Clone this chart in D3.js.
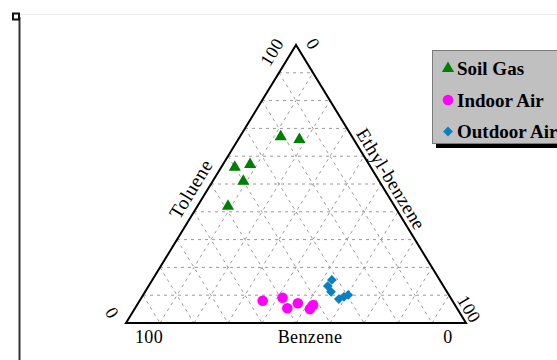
<!DOCTYPE html>
<html><head><meta charset="utf-8">
<script src="https://cdn.jsdelivr.net/npm/d3@7"></script>
<style>html,body{margin:0;padding:0;background:#fff;overflow:hidden}svg{display:block}</style>
</head><body>
<svg id="c" width="557" height="360"></svg>
<script>
// ---- data (percent composition) ----
const seriesNames = ["Soil Gas", "Indoor Air", "Outdoor Air"];
const soilBenzene  = [21, 16, 40, 35, 40, 49];
const soilToluene  = [67, 66, 56, 57, 51, 42];
const soilEthyl    = [12, 18, 4, 8, 9, 9];
const indoorBenzene = [55.8, 49.4, 49.9, 45.9, 43.4, 41.7];
const indoorToluene = [8.0, 9.1, 5.3, 7.1, 5.0, 6.5];
const indoorEthyl   = [36.2, 41.5, 44.8, 47.0, 51.6, 51.8];
const outdoorBenzene = [31.7, 34.0, 34.1, 33.1, 31.2, 29.6];
const outdoorToluene = [15.5, 13.3, 11.2, 8.6, 9.4, 10.1];
const outdoorEthyl   = [52.8, 52.7, 54.7, 58.3, 59.4, 60.3];
const gridSteps = [10, 20, 30, 40, 50, 60, 70, 80, 90];
const axisNames = ["Benzene", "Toluene", "Ethyl-benzene"];
const tickEnds = ["0", "100"];

const svg = d3.select("#c");
const font = "'Liberation Serif','Times New Roman',serif";

// ternary scales
const xs = d3.scaleLinear().domain([0, 100]).range([126, 466]); // E + T/2
const ys = d3.scaleLinear().domain([0, 100]).range([323, 45]);  // T
const px = (b, t, e) => xs(e + t / 2);
const py = (b, t, e) => ys(t);
const pt = (b, t, e) => [px(b, t, e), py(b, t, e)];

// frame remnants
svg.append("line").attr("x1", 20).attr("x2", 557).attr("y1", 14.5).attr("y2", 14.5)
  .attr("stroke", "#ececec").attr("stroke-width", 1);
svg.append("line").attr("x1", 19.5).attr("x2", 19.5).attr("y1", 17).attr("y2", 360)
  .attr("stroke", "#333").attr("stroke-width", 2);
svg.append("rect").attr("x", 13).attr("y", 13.5).attr("width", 6).attr("height", 6)
  .attr("fill", "#fff").attr("stroke", "#111").attr("stroke-width", 2);

// grid
const g = svg.append("g").attr("stroke", "#9a9a9a").attr("stroke-width", 1)
  .attr("stroke-dasharray", "3,4").attr("fill", "none");
gridSteps.forEach(k => {
  const segs = [
    [pt(100 - k, k, 0), pt(0, k, 100 - k)],
    [pt(100 - k, 0, k), pt(0, 100 - k, k)],
    [pt(k, 100 - k, 0), pt(k, 0, 100 - k)]
  ];
  segs.forEach(s => g.append("line").attr("x1", s[0][0]).attr("y1", s[0][1])
    .attr("x2", s[1][0]).attr("y2", s[1][1]));
});

// triangle outline
const corners = [pt(100, 0, 0), pt(0, 100, 0), pt(0, 0, 100)];
svg.append("path").attr("d", d3.line()(corners) + "Z")
  .attr("fill", "none").attr("stroke", "#000").attr("stroke-width", 2);

// axis titles & tick labels
const ang = Math.atan2(ys(0) - ys(100), xs(50) - xs(0)) * 180 / Math.PI;
function lab(x, y, rot, txt, size) {
  svg.append("text").attr("transform", `translate(${x},${y}) rotate(${rot})`)
    .attr("text-anchor", "middle").attr("dominant-baseline", "central")
    .attr("font-family", font).attr("font-size", size || 18).attr("letter-spacing", 0.4)
    .attr("fill", "#000").text(txt);
}
lab(310, 337, 0, axisNames[0]);
lab(149, 337, 0, tickEnds[1]);
lab(448, 337, 0, tickEnds[0]);
lab(191, 189, -ang, axisNames[1], 19.5);
lab(272, 52, -ang, tickEnds[1]);
lab(112, 313, ang, tickEnds[0]);
lab(391, 179, ang, axisNames[2], 19);
lab(313, 44, ang, tickEnds[0]);
lab(469, 309, ang, tickEnds[1]);

// points
const series = [
  {b: soilBenzene, t: soilToluene, e: soilEthyl, sym: d3.symbolTriangle, size: 64, rot: 0, color: "#008000"},
  {b: indoorBenzene, t: indoorToluene, e: indoorEthyl, sym: d3.symbolCircle, size: 88, rot: 0, color: "#ff00ff"},
  {b: outdoorBenzene, t: outdoorToluene, e: outdoorEthyl, sym: d3.symbolSquare, size: 48, rot: 45, color: "#0a80c4"}
];
series.forEach(s => {
  const data = s.b.map((b, i) => [b, s.t[i], s.e[i]]);
  svg.append("g").selectAll("path").data(data).join("path")
    .attr("transform", d => `translate(${px(...d)},${py(...d)}) rotate(${s.rot})`)
    .attr("d", d3.symbol().type(s.sym).size(s.size))
    .attr("fill", s.color);
});

// legend
svg.append("rect").attr("x", 436).attr("y", 54).attr("width", 140).attr("height", 94).attr("fill", "#000");
svg.append("rect").attr("x", 432.5).attr("y", 50.5).attr("width", 140).attr("height", 93)
  .attr("fill", "#c0c0c0").attr("stroke", "#7a7a7a").attr("stroke-width", 1);
const lg = svg.append("g");
seriesNames.forEach((n, i) => {
  const y = 68.5 + i * 31.5;
  lg.append("path").attr("transform", `translate(448,${y}) rotate(${series[i].rot})`)
    .attr("d", d3.symbol().type(series[i].sym).size(series[i].size)).attr("fill", series[i].color);
  lg.append("text").attr("x", 457).attr("y", y + 6.5).attr("font-family", font)
    .attr("font-weight", "bold").attr("font-size", 19).attr("fill", "#000").text(n);
});
</script>
</body></html>
